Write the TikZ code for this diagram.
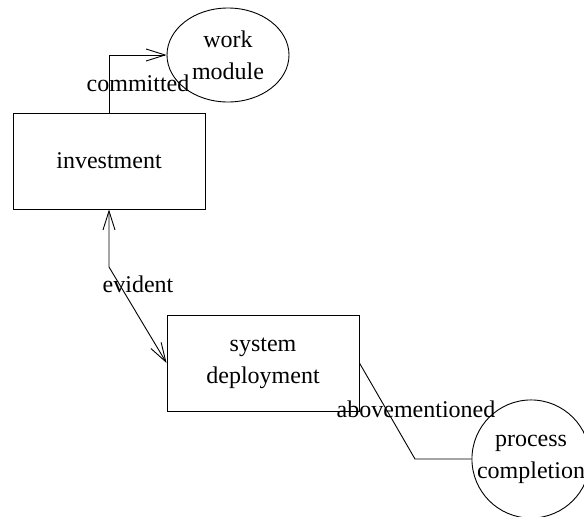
\documentclass[tikz,border=0pt]{standalone}
\usepackage{fontspec}
\setmainfont{Liberation Serif}
\usetikzlibrary{arrows.meta,shapes.geometric}
\tikzset{
  box/.style={rectangle, draw, minimum width=192pt, minimum height=96pt, inner sep=0pt, align=center},
  barb/.tip={Straight Barb[length=19pt,width=12pt]}
}
\begin{document}
\begin{tikzpicture}[x=1pt, y=-1pt, line width=0.9pt, font=\fontsize{24}{32}\selectfont]
    \useasboundingbox (0,0) rectangle (584,517);
    \node (inv) at (109,161) [box] {investment};
    \node (work) at (228,55) [ellipse, draw, minimum width=122pt, minimum height=94pt, inner sep=0pt, align=center] {work\\module};
    \node (sys) at (263,363) [box] {system\\deployment};
    \node (proc) at (531,459) [circle, draw, minimum size=114pt, inner sep=0pt, align=center] {process\\completion};
    \coordinate (bendA) at (109,267);
    \coordinate (bendB) at (415,459);
    \draw[-barb] (inv.north) |- (work.west);
    \draw[barb-barb] (inv.south) -- (bendA) -- (sys.west);
    \draw (sys.east) -- (bendB) -- (proc.west);
    \node (lblA) at (138,83) {committed};
    \node (lblB) at (138,284) {evident};
    \node (lblC) at (416,409) {abovementioned};
\end{tikzpicture}
\end{document}
